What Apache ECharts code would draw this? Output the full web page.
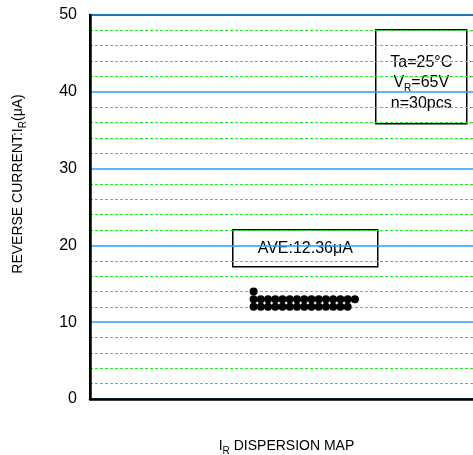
<!DOCTYPE html>
<html>
<head>
<meta charset="utf-8">
<script src="https://cdn.jsdelivr.net/npm/echarts@6/dist/echarts.min.js"></script>
<style>html,body{margin:0;padding:0;background:#fff;}#c{width:473px;height:455px;}</style>
</head>
<body>
<div id="c"></div>
<script>
// Dispersion rows: measured value (µA) and number of pieces at that value
const rowValues = [12.0, 13.0, 14.0];
const rowCounts = [14, 15, 1];
const yTicks = [0, 10, 20, 30, 40, 50];
const aveText = 'AVE:12.36μA';
const condLines = ['{m|Ta=25°C}', '{m|V}{sub|R}{m|=65V}', '{m|n=30pcs}'];

const dots = [];
rowValues.forEach((v, r) => {
  for (let i = 0; i < rowCounts[r]; i++) dots.push([i, v]);
});

const FONT = 'Liberation Sans, Arial, sans-serif';
const FS = 16;
const TFS = 14;
const chart = echarts.init(document.getElementById('c'));
chart.setOption({
  animation: false,
  textStyle: { fontFamily: FONT },
  grid: { left: 90, top: 15, right: -10, bottom: 56, outerBoundsMode: 'none', containLabel: false,
          show: true, borderColor: '#000', borderWidth: 2, backgroundColor: 'transparent' },
  xAxis: {
    type: 'value', min: -22.6, max: 31.7,
    axisLine: { show: true, onZero: false, lineStyle: { color: '#000', width: 2.5 } },
    axisTick: { show: false }, axisLabel: { show: false }, splitLine: { show: false },
    name: '{m|I}{sub|R}{m| DISPERSION MAP}', nameLocation: 'middle', nameGap: 37,
    nameTextStyle: {
      rich: {
        m: { fontSize: TFS, color: '#000', fontFamily: FONT, lineHeight: 20 },
        sub: { fontSize: 10, color: '#000', fontFamily: FONT, verticalAlign: 'bottom', lineHeight: 10 }
      }
    }
  },
  yAxis: {
    type: 'value', min: yTicks[0], max: yTicks[yTicks.length - 1], interval: 10,
    axisLine: { show: true, onZero: false, lineStyle: { color: '#000', width: 2.5 } },
    axisTick: { show: false },
    axisLabel: { color: '#000', fontSize: FS, margin: 13, fontFamily: FONT },
    splitLine: { show: true, lineStyle: { color: '#2e9bf5', width: 1.5, type: 'solid' } },
    minorTick: { show: false, splitNumber: 5 },
    minorSplitLine: { show: true, lineStyle: { color: '#22ee22', width: 1, type: [3, 2] } },
    name: '{m|REVERSE CURRENT:I}{sub|R}{m|(μA)}', nameLocation: 'middle', nameRotate: 90, nameGap: 62,
    nameTextStyle: {
      padding: [0, 0, 0, 46],
      rich: {
        m: { fontSize: TFS, color: '#000', fontFamily: FONT, lineHeight: 20 },
        sub: { fontSize: 10, color: '#000', fontFamily: FONT, verticalAlign: 'bottom', lineHeight: 10 }
      }
    }
  },
  series: [{
    type: 'scatter', data: dots, symbol: 'circle', symbolSize: 8,
    itemStyle: { color: '#000', opacity: 1 }, z: 5
  }],
  graphic: [
    {
      type: 'group', left: 232, top: 229, z: 10,
      children: [
        { type: 'rect', shape: { x: 0, y: 0, width: 145, height: 37 }, style: { fill: '#fff', stroke: '#000', lineWidth: 1.5 } },
        { type: 'text', x: 72.5, y: 19, style: { text: aveText, fill: '#000', font: FS + 'px ' + FONT, align: 'center', verticalAlign: 'middle' } }
      ]
    },
    {
      type: 'group', left: 375, top: 29, z: 10,
      children: [
        { type: 'rect', shape: { x: 0, y: 0, width: 91, height: 94 }, style: { fill: '#fff', stroke: '#000', lineWidth: 1.5 } },
        { type: 'text', x: 45.5, y: 53, style: {
          text: condLines.join('\n'), fill: '#000', align: 'center', verticalAlign: 'middle',
          font: FS + 'px ' + FONT,
          rich: {
            m: { fontSize: FS, fontFamily: FONT, fill: '#000', lineHeight: 20.5 },
            sub: { fontSize: 10, fontFamily: FONT, fill: '#000', verticalAlign: 'bottom', lineHeight: 10 }
          }
        } }
      ]
    }
  ]
});
</script>
</body>
</html>
